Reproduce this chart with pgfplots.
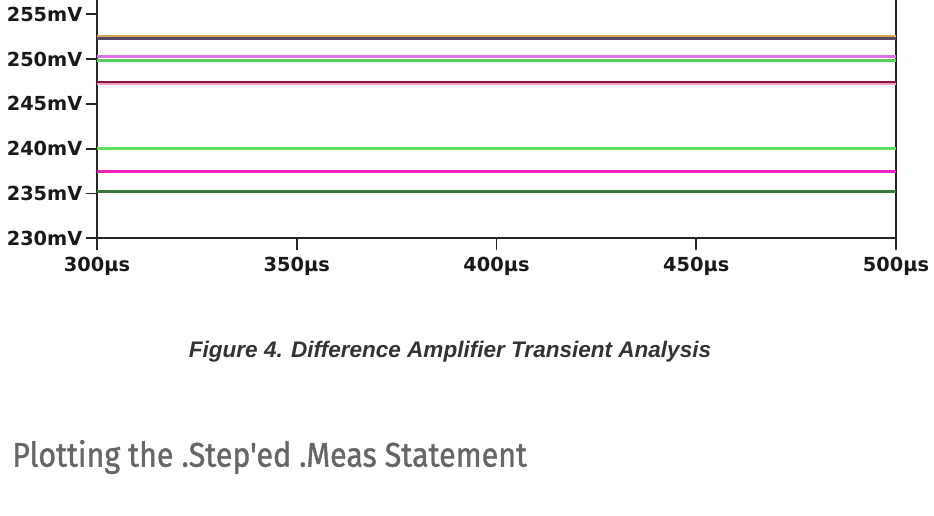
\documentclass[border=0pt]{standalone}
\usepackage{pgfplots}
\pgfplotsset{compat=1.18}
\usepackage{fontspec}
\setmainfont{Liberation Sans}
\newfontfamily\tickfont{DejaVu Sans}
\newfontfamily\headfont[FakeBold=1.2]{Fira Sans}
\definecolor{cOrange}{HTML}{D8A85A}
\definecolor{cPurple}{HTML}{5A4868}
\definecolor{cViolet}{HTML}{E070E8}
\definecolor{cGreen}{HTML}{58D058}
\definecolor{cMaroon}{HTML}{8A1448}
\definecolor{cPinkL}{HTML}{F0A0B8}
\definecolor{cLGreen}{HTML}{60E060}
\definecolor{cHot}{HTML}{F020C0}
\definecolor{cDGreen}{HTML}{387838}
\definecolor{capgray}{HTML}{333333}
\definecolor{headgray}{HTML}{666666}
\begin{document}
\begin{tikzpicture}[x=1pt,y=1pt]
\useasboundingbox (0,0) rectangle (700.5,387);
\begin{axis}[
  at={(72.75pt,208.3pt)}, anchor=south west,
  scale only axis, width=599.25pt, height=178.7pt,
  xmin=300, xmax=500, ymin=230, ymax=256.6,
  axis x line=bottom, axis y line=box,
  axis line style={-, line width=1.3pt, black!85},
  xtick={300,350,400,450,500},
  xticklabels={300µs,350µs,400µs,450µs,500µs},
  ytick={230,235,240,245,250,255},
  yticklabels={230mV,235mV,240mV,245mV,250mV,255mV},
  ytick pos=left, xtick pos=bottom,
  tick align=outside, major tick length=8.5pt,
  tick style={line width=1.3pt, black!85},
  ticklabel style={font=\tickfont\bfseries\fontsize{14.5}{14.5}\selectfont, text=black!90},
  xticklabel style={yshift=-2.5pt},
  yticklabel style={xshift=1pt},
  clip=false,
]
\addplot[cOrange, line width=2pt] coordinates {(300,252.55) (500,252.55)};
\addplot[cPurple, line width=2pt] coordinates {(300,252.30) (500,252.30)};
\addplot[cViolet, line width=2pt] coordinates {(300,250.29) (500,250.29)};
\addplot[cGreen, line width=2pt] coordinates {(300,249.81) (500,249.81)};
\addplot[cPinkL, line width=2pt] coordinates {(300,247.25) (500,247.25)};
\addplot[cMaroon, line width=2pt] coordinates {(300,247.43) (500,247.43)};
\addplot[cLGreen, line width=2.2pt] coordinates {(300,239.98) (500,239.98)};
\addplot[cHot, line width=2.2pt] coordinates {(300,237.49) (500,237.49)};
\addplot[cDGreen, line width=2.2pt] coordinates {(300,235.17) (500,235.17)};
\end{axis}
\node[anchor=base, inner sep=0, text=capgray, font=\bfseries\itshape\fontsize{16.9}{20}\selectfont] at (337.5,118.5) {Figure 4. Difference Amplifier Transient Analysis};
\node[anchor=base west, inner sep=0, text=headgray] at (9,37) {\resizebox{386pt}{20pt}{\headfont Plotting the .Step'ed .Meas Statement}};
\end{tikzpicture}
\end{document}
